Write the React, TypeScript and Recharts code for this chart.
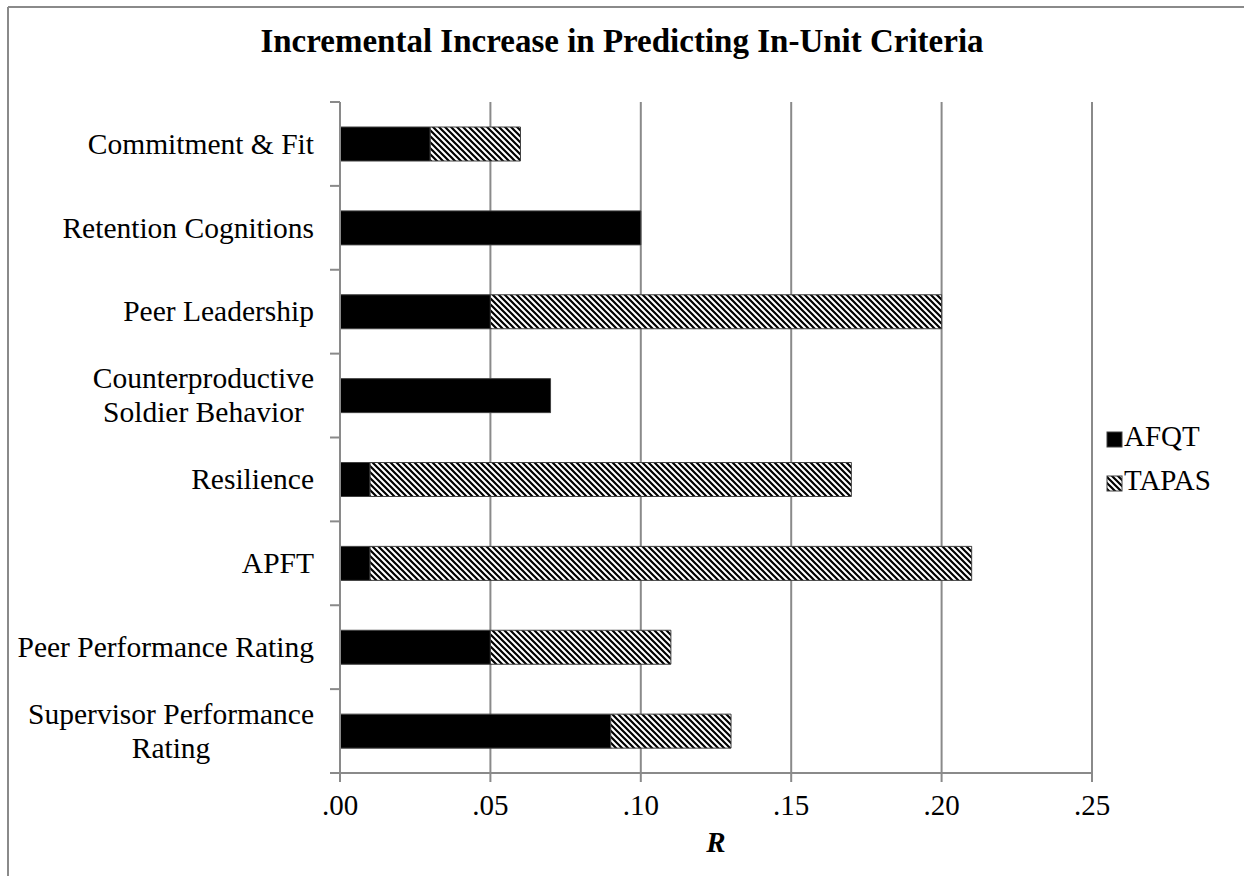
import React from 'react';
import { BarChart, Bar, XAxis, YAxis, CartesianGrid } from 'recharts';

const categories: string[][] = [
  ['Commitment & Fit'],
  ['Retention Cognitions'],
  ['Peer Leadership'],
  ['Counterproductive', 'Soldier Behavior'],
  ['Resilience'],
  ['APFT'],
  ['Peer Performance Rating'],
  ['Supervisor Performance', 'Rating'],
];
const afqtValues = [0.03, 0.10, 0.05, 0.07, 0.01, 0.01, 0.05, 0.09];
const tapasValues = [0.03, 0, 0.15, 0, 0.16, 0.20, 0.06, 0.04];
const xTicks = [0, 0.05, 0.10, 0.15, 0.20, 0.25];
const xTickLabels = ['.00', '.05', '.10', '.15', '.20', '.25'];
const seriesNames = ['AFQT', 'TAPAS'];
const chartTitle = 'Incremental Increase in Predicting In-Unit Criteria';
const xAxisTitle = 'R';

const FONT = '"Liberation Serif", "Times New Roman", serif';
const FS = 29;
const LFS = 29.5;
const GRID = '#8a8a8a';
const EDGE = '#404040';

const W = 1244;
const H = 876;
const M_TOP = 102;
const M_BOTTOM = 20;
const X_AXIS_H = 83;
const PLOT_H = H - M_TOP - M_BOTTOM - X_AXIS_H;

const data = categories.map((c, i) => ({
  name: c.join(' '),
  afqt: afqtValues[i],
  tapas: tapasValues[i],
}));

const n = categories.length;
const bandH = PLOT_H / n;

let ctx: CanvasRenderingContext2D | null = null;
function measure(t: string): number {
  if (!ctx) {
    const c = document.createElement('canvas');
    ctx = c.getContext('2d');
  }
  if (!ctx) return t.length * LFS * 0.45;
  ctx.font = `${LFS}px "Liberation Serif"`;
  return ctx.measureText(t).width;
}

const YTick = (props: any) => {
  const { x, y, index } = props;
  const lines = categories[index] || [];
  const w = Math.max(...lines.map(measure));
  const cx = x - w / 2;
  const lh = 34;
  const firstY = y - ((lines.length - 1) * lh) / 2 + LFS * 0.33;
  return (
    <g>
      {index === 0 && (
        <line x1={x + 16} x2={x + 26} y1={y - bandH / 2} y2={y - bandH / 2} stroke={GRID} strokeWidth={2} />
      )}
      <line x1={x + 16} x2={x + 26} y1={y + bandH / 2} y2={y + bandH / 2} stroke={GRID} strokeWidth={2} />
      <text x={cx} y={firstY} textAnchor="middle" fontFamily={FONT} fontSize={LFS} fill="#000">
        {lines.map((l, i) => (
          <tspan key={i} x={cx} y={firstY + i * lh}>
            {l}
          </tspan>
        ))}
      </text>
    </g>
  );
};

export default function App() {
  return (
    <div style={{ position: 'absolute', left: 0, top: 0, width: W, height: H, overflow: 'hidden', background: '#fff' }}>
      <BarChart
        width={W}
        height={H}
        data={data}
        layout="vertical"
        barSize={34}
        margin={{ top: M_TOP, right: 152, left: 10, bottom: M_BOTTOM }}
        style={{ fontFamily: FONT }}
      >
        <defs>
          <pattern id="hatch" patternUnits="userSpaceOnUse" width={6} height={6}>
            <rect x={0} y={0} width={6} height={6} fill="#fff" />
            <path d="M-1,-1 L7,7 M-1,5 L1,7 M5,-1 L7,1" stroke="#000" strokeWidth={2.2} />
          </pattern>
        </defs>
        <CartesianGrid horizontal={false} stroke={GRID} strokeWidth={2} />
        <XAxis
          type="number"
          domain={[0, 0.25]}
          ticks={xTicks}
          interval={0}
          tickFormatter={(v: number) => xTickLabels[xTicks.indexOf(v)] ?? ''}
          axisLine={{ stroke: GRID, strokeWidth: 2 }}
          tickLine={{ stroke: GRID, strokeWidth: 2 }}
          tickSize={9}
          tickMargin={12}
          tick={{ fill: '#000', fontSize: FS, fontFamily: FONT }}
          height={X_AXIS_H}
          label={{ value: xAxisTitle, position: 'insideBottom', offset: 4, fontFamily: FONT, fontSize: FS, fontWeight: 'bold', fontStyle: 'italic', fill: '#000' }}
        />
        <YAxis
          type="category"
          dataKey="name"
          interval={0}
          width={330}
          tickSize={10}
          tickMargin={16}
          tickLine={false}
          axisLine={{ stroke: GRID, strokeWidth: 2 }}
          tick={<YTick />}
        />
        <Bar dataKey="afqt" name={seriesNames[0]} stackId="s" fill="#000" stroke={EDGE} strokeWidth={1} isAnimationActive={false} />
        <Bar dataKey="tapas" name={seriesNames[1]} stackId="s" fill="url(#hatch)" stroke={EDGE} strokeWidth={1} isAnimationActive={false} />
      </BarChart>
      <svg width={W} height={H} style={{ position: 'absolute', left: 0, top: 0, pointerEvents: 'none' }}>
        <defs>
          <pattern id="hatch2" patternUnits="userSpaceOnUse" width={6} height={6}>
            <rect x={0} y={0} width={6} height={6} fill="#fff" />
            <path d="M-1,-1 L7,7 M-1,5 L1,7 M5,-1 L7,1" stroke="#000" strokeWidth={2.2} />
          </pattern>
        </defs>
        <line x1={8} y1={7} x2={W} y2={7} stroke={GRID} strokeWidth={2} />
        <line x1={8} y1={7} x2={8} y2={H} stroke={GRID} strokeWidth={2} />
        <text x={622} y={52} textAnchor="middle" fontFamily={FONT} fontSize={33} fontWeight="bold" fill="#000">
          {chartTitle}
        </text>
        <rect x={1107} y={432} width={15} height={15} fill="#000" stroke={EDGE} strokeWidth={1} />
        <text x={1124} y={446} fontFamily={FONT} fontSize={FS} fill="#000">{seriesNames[0]}</text>
        <rect x={1107} y={476} width={15} height={15} fill="url(#hatch2)" stroke={EDGE} strokeWidth={1} />
        <text x={1124} y={490} fontFamily={FONT} fontSize={FS} fill="#000">{seriesNames[1]}</text>
      </svg>
    </div>
  );
}
